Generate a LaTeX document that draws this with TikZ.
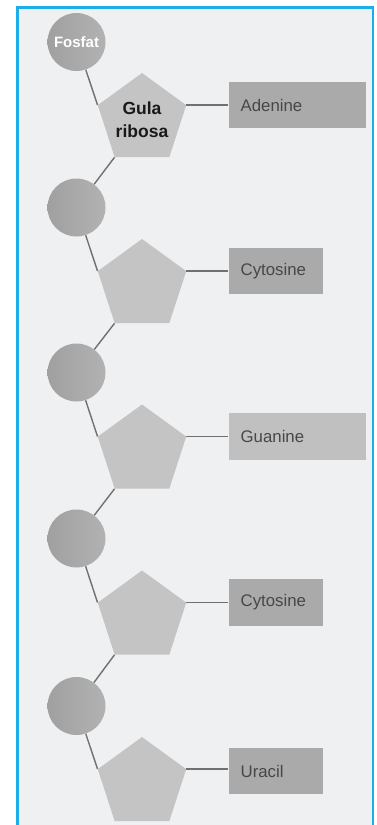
\documentclass[tikz,border=0pt]{standalone}
\usepackage{fontspec}
\setmainfont{Liberation Sans}
\definecolor{frameBlue}{HTML}{1DAEEA}
\definecolor{paperBg}{HTML}{EFF0F2}
\definecolor{phosGrayA}{HTML}{A0A0A0}
\definecolor{phosGrayB}{HTML}{B2B2B2}
\definecolor{sugarGray}{HTML}{C4C4C4}
\definecolor{baseGray}{HTML}{AAAAAA}
\definecolor{baseLight}{HTML}{C0C0C0}
\definecolor{bondGray}{HTML}{707070}
\definecolor{labelGray}{HTML}{474747}
\usetikzlibrary{positioning, shapes.geometric}

\begin{document}
\begin{tikzpicture}[
  x=1pt, y=-1pt,
  phos/.style={circle, minimum size=58pt, inner sep=0pt, left color=phosGrayA, right color=phosGrayB,
    text=white, font=\fontsize{15}{18}\selectfont\bfseries},
  sugar/.style={regular polygon, regular polygon sides=5, minimum size=93pt, inner sep=0pt,
    fill=sugarGray, align=center, font=\fontsize{17.5}{23}\selectfont\bfseries, text=black!90},
  base/.style={rectangle, fill=baseGray, minimum height=46.5pt, inner xsep=12pt, inner ysep=0pt,
    align=left, anchor=west, text=labelGray, font=\fontsize{16.8}{20}\selectfont},
  wide/.style={base, text width=113pt},
  narrow/.style={base, text width=70pt},
  bond/.style={draw=bondGray, line width=1.4pt}
]
  \useasboundingbox (0,0) rectangle (376,825);
  \fill[white] (0,0) rectangle (376,825);
  \draw[fill=paperBg, draw=frameBlue, line width=2.6pt] (17.3,835) -- (17.3,7.3) -- (373,7.3) -- (373,835);

  % phosphates
  \node[phos] (p1) at (76.5,42) {Fosfat};
  \node[phos] (p2) at (76.5,207.5) {};
  \node[phos] (p3) at (76.5,372.5) {};
  \node[phos] (p4) at (76.5,538.5) {};
  \node[phos] (p5) at (76.5,706) {};

  % ribose sugars
  \node[sugar] (s1) at (142,119.5) {Gula\\ribosa};
  \node[sugar] (s2) at (142,285.5) {};
  \node[sugar] (s3) at (142,451) {};
  \node[sugar] (s4) at (142,617) {};
  \node[sugar] (s5) at (142,783.5) {};

  % bases
  \node[wide] (b1) at ([xshift=42pt]s1.corner 5) {Adenine};
  \node[narrow] (b2) at ([xshift=42pt]s2.corner 5) {Cytosine};
  \node[wide, fill=baseLight] (b3) at ([xshift=42pt]s3.corner 5) {Guanine};
  \node[narrow] (b4) at ([xshift=42pt]s4.corner 5) {Cytosine};
  \node[narrow] (b5) at ([xshift=42pt,yshift=-2pt]s5.corner 5) {Uracil};

  \foreach \n in {1,...,5}
    \draw[bond] (p\n) -- (s\n.corner 2);
  \foreach \n in {1,...,5}
    \draw[bond] (s\n.corner 5) -- (s\n.corner 5 -| b\n.west);
  \foreach \a/\b in {1/2, 2/3, 3/4, 4/5}
    \draw[bond] (s\a.corner 3) -- (p\b);
\end{tikzpicture}
\end{document}
